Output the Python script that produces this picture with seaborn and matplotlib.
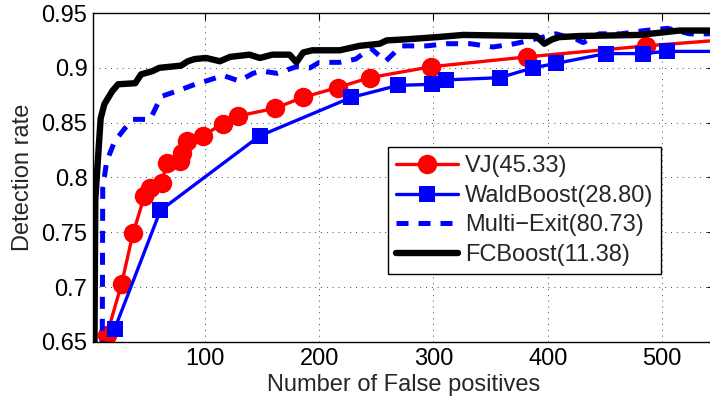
import matplotlib
matplotlib.use("Agg")
import matplotlib.pyplot as plt
import seaborn as sns

# Values
vj_fp = [14, 27, 37, 47, 52, 62, 66.5, 78, 80, 84, 98, 115.5, 128.6, 161, 185.5,
         216, 244, 298, 382, 486, 560]
vj_dr = [0.656, 0.703, 0.749, 0.783, 0.790, 0.795, 0.813, 0.815, 0.822, 0.833, 0.838,
         0.849, 0.856, 0.863, 0.873, 0.882, 0.891, 0.901, 0.910, 0.920, 0.926]

wald_fp = [21, 61, 148, 228, 269, 299, 311, 358, 387, 407, 451, 483, 504, 560]
wald_dr = [0.662, 0.770, 0.838, 0.873, 0.884, 0.885, 0.889, 0.891, 0.900, 0.904,
           0.913, 0.913, 0.915, 0.915]

multi_fp = [10, 10.5, 14, 21, 30, 37, 52, 59, 62, 76, 94, 101, 116, 130, 142, 150,
            163, 180, 192, 200, 218, 232, 245, 258, 272, 294, 312, 332, 352, 371,
            388, 407, 425, 431, 445, 464, 485, 505, 524, 550]
multi_dr = [0.60, 0.79, 0.815, 0.833, 0.845, 0.853, 0.853, 0.868, 0.874, 0.879, 0.886,
            0.888, 0.893, 0.888, 0.895, 0.897, 0.895, 0.901, 0.900, 0.905, 0.905,
            0.908, 0.918, 0.906, 0.920, 0.920, 0.922, 0.922, 0.919, 0.922, 0.926,
            0.931, 0.926, 0.923, 0.931, 0.931, 0.934, 0.936, 0.931, 0.931]

fc_fp = [3, 4, 8.7, 12, 19, 24, 39, 44, 54, 60, 79, 85, 91, 101, 113, 122, 139, 148,
         159, 174, 180, 186, 194, 209, 218, 235, 253, 259, 276, 303, 326, 390, 397,
         404, 410, 428, 480, 498, 515, 550]
fc_dr = [0.60, 0.78, 0.854, 0.867, 0.879, 0.885, 0.886, 0.894, 0.897, 0.900, 0.902,
         0.906, 0.908, 0.909, 0.906, 0.910, 0.912, 0.909, 0.912, 0.912, 0.905, 0.914,
         0.916, 0.916, 0.916, 0.920, 0.922, 0.925, 0.926, 0.928, 0.930, 0.929, 0.922,
         0.926, 0.928, 0.929, 0.930, 0.932, 0.934, 0.934]

labels = ["VJ(45.33)", "WaldBoost(28.80)", "Multi\u2212Exit(80.73)", "FCBoost(11.38)"]
x_ticks = [100, 200, 300, 400, 500]
y_ticks = [0.65, 0.7, 0.75, 0.8, 0.85, 0.9, 0.95]
y_tick_labels = ["0.65", "0.7", "0.75", "0.8", "0.85", "0.9", "0.95"]

sns.set_style("white")
plt.rcParams["font.family"] = ["Liberation Sans", "DejaVu Sans"]

fig = plt.figure(figsize=(7.1, 4.0), dpi=100)
ax = fig.add_axes([93 / 710, 58 / 400, 621 / 710, 329 / 400])

sns.lineplot(x=vj_fp, y=vj_dr, ax=ax, color="red", lw=2.4, marker="o",
             markersize=14, markeredgewidth=0, sort=False, estimator=None,
             label=labels[0])
sns.lineplot(x=wald_fp, y=wald_dr, ax=ax, color="blue", lw=2.4, marker="s",
             markersize=11, markeredgewidth=0, sort=False, estimator=None,
             label=labels[1])
sns.lineplot(x=multi_fp, y=multi_dr, ax=ax, color="blue", lw=3.6, sort=False,
             estimator=None, label=labels[2])
ax.lines[-1].set_dashes([2.4, 2.0])
sns.lineplot(x=fc_fp, y=fc_dr, ax=ax, color="black", lw=4.6, sort=False,
             estimator=None, label=labels[3])

ax.set_xlim(2, 545.5)
ax.set_ylim(0.65, 0.95)
ax.set_xticks(x_ticks)
ax.set_yticks(y_ticks)
ax.set_yticklabels(y_tick_labels)
ax.tick_params(direction="in", length=5, width=0.8, labelsize=17, top=True,
               right=True, colors="black", pad=4)
ax.grid(True, linestyle=(0, (1, 5)), color="#444444", lw=0.7)
for s in ax.spines.values():
    s.set_color("black")
    s.set_linewidth(1.0)

ax.set_xlabel("Number of False positives", fontsize=17, labelpad=3)
ax.set_ylabel("Detection rate", fontsize=17, labelpad=5)

leg = ax.legend(loc="upper left", bbox_to_anchor=(388 / 710, 1 - 147 / 400),
                bbox_transform=fig.transFigure, borderaxespad=0, fontsize=17,
                frameon=True, fancybox=False, edgecolor="black", framealpha=1,
                handlelength=2.6, handletextpad=0.3, labelspacing=0.32,
                borderpad=0.35)
leg.get_frame().set_linewidth(1.0)

fig.savefig("out.png", dpi=100)
